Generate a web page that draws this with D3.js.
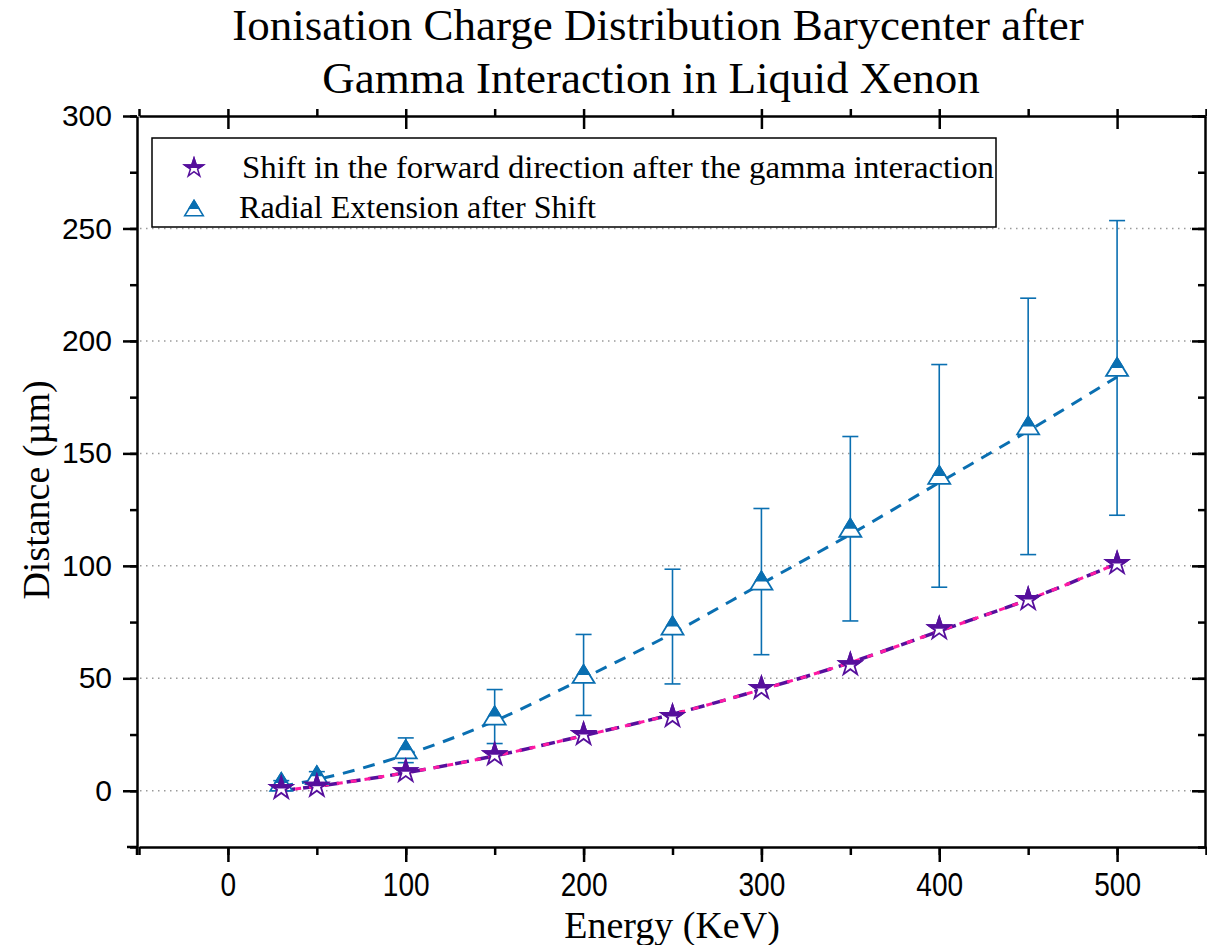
<!DOCTYPE html>
<html>
<head>
<meta charset="utf-8">
<script src="https://cdn.jsdelivr.net/npm/d3@7"></script>
<style>
  body { margin: 0; background: white; }
  svg { display: block; }
</style>
</head>
<body>
<div id="chart"></div>
<script>
// data
const energies = [30, 50, 100, 150, 200, 250, 300, 350, 400, 450, 500];
const shiftVals = [1, 2, 8.5, 16, 25, 33, 45.5, 56, 72, 85, 101];
const radialVals = [3.5, 6.5, 18, 33, 51.5, 73, 93, 116.5, 140, 162, 188];
const radialErr = [1, 2, 5.5, 12, 18, 25.5, 32.5, 41, 49.5, 57, 65.5];
const shiftFit = [0, 2, 8, 15.5, 24.5, 34, 45, 57, 71, 85, 101];
const radialFit = [2, 5, 16, 31, 50, 70, 92, 114, 137, 160, 184];
const xTicks = [0, 100, 200, 300, 400, 500];
const yTicks = [0, 50, 100, 150, 200, 250, 300];

const W = 1207, H = 945;
const frame = { left: 137, right: 1205, top: 116, bottom: 847 };

const svg = d3.select('#chart').append('svg')
  .attr('width', W).attr('height', H);

const x = d3.scaleLinear().domain([-50, 550]).range([139, 1206]);
const y = d3.scaleLinear().domain([-25, 300]).range([frame.bottom, frame.top]);

const blue = '#0a6fb1', purple = '#560f9c', magenta = '#ff1aa3';

// clip for half filled markers (top half)
svg.append('defs').append('clipPath').attr('id', 'tophalf')
  .append('rect').attr('x', -20).attr('y', -20).attr('width', 40).attr('height', 20);

// title
const title = svg.append('text').attr('text-anchor', 'middle')
  .style('font-family', '"Liberation Serif", serif').style('font-size', '45px');
title.append('tspan').attr('x', 658).attr('y', 40).text('Ionisation Charge Distribution Barycenter after');
title.append('tspan').attr('x', 651).attr('y', 93).text('Gamma Interaction in Liquid Xenon');

// grid
svg.append('g').selectAll('line')
  .data(yTicks.filter(d => d < 300))
  .enter().append('line')
  .attr('x1', frame.left + 3).attr('x2', frame.right - 14)
  .attr('y1', d => y(d)).attr('y2', d => y(d))
  .attr('stroke', '#9a9a9a').attr('stroke-width', 1.5)
  .attr('stroke-dasharray', '1.5,4.5');

// axes
function styleAxis(g) {
  g.selectAll('path').attr('stroke', '#000').attr('stroke-width', 2.5);
  g.selectAll('line').attr('stroke', '#000').attr('stroke-width', 2.5);
  g.selectAll('text').style('font-family', '"Liberation Sans", Arial, sans-serif')
    .style('font-size', '30px').attr('fill', '#000');
}
const yMinor = d3.range(-25, 301, 25);
const xMinor = d3.range(-50, 551, 50);

svg.append('g').attr('transform', `translate(${frame.left},0)`)
  .call(d3.axisLeft(y).tickValues(yMinor).tickSize(7).tickSizeOuter(0).tickFormat(''))
  .call(styleAxis);
svg.append('g').attr('transform', `translate(${frame.left},0)`)
  .call(d3.axisLeft(y).tickValues(yTicks).tickSize(14).tickPadding(11).tickSizeOuter(0))
  .call(styleAxis).call(g => g.select('.domain').remove());

svg.append('g').attr('transform', `translate(${frame.right},0)`)
  .call(d3.axisLeft(y).tickValues(yMinor).tickSize(7).tickSizeOuter(0).tickFormat(''))
  .call(styleAxis);
svg.append('g').attr('transform', `translate(${frame.right},0)`)
  .call(d3.axisLeft(y).tickValues(yTicks).tickSize(13).tickSizeOuter(0).tickFormat(''))
  .call(styleAxis).call(g => g.select('.domain').remove());

svg.append('g').attr('transform', `translate(0,${frame.bottom})`)
  .call(d3.axisBottom(x).tickValues(xMinor).tickSize(8).tickSizeOuter(0).tickFormat(''))
  .call(styleAxis);
svg.append('g').attr('transform', `translate(0,${frame.bottom})`)
  .call(d3.axisBottom(x).tickValues(xTicks).tickSize(15).tickPadding(11).tickSizeOuter(0))
  .call(styleAxis).call(g => g.select('.domain').remove())
  .call(g => g.selectAll('text').style('font-size', '33px').attr('transform', 'scale(0.85,1)'));

svg.append('g').attr('transform', `translate(0,${frame.top})`)
  .call(d3.axisBottom(x).tickValues(xMinor).tickSize(-7).tickSizeOuter(0).tickFormat(''))
  .call(styleAxis);
svg.append('g').attr('transform', `translate(0,${frame.top})`)
  .call(d3.axisBottom(x).tickValues(xTicks).tickSize(13).tickSizeOuter(0).tickFormat(''))
  .call(styleAxis).call(g => g.select('.domain').remove());

// small overhang of the axis lines at the bottom left corner
svg.append('line').attr('x1', 127).attr('x2', frame.left).attr('y1', frame.bottom).attr('y2', frame.bottom)
  .attr('stroke', '#000').attr('stroke-width', 2.5);
svg.append('line').attr('x1', frame.left).attr('x2', frame.left).attr('y1', frame.bottom).attr('y2', frame.bottom + 8)
  .attr('stroke', '#000').attr('stroke-width', 2.5);

// axis labels
svg.append('text').attr('x', 672).attr('y', 938).attr('text-anchor', 'middle')
  .style('font-family', '"Liberation Serif", serif').style('font-size', '38px')
  .text('Energy (KeV)');
svg.append('text').attr('transform', 'translate(49,490) rotate(-90)').attr('text-anchor', 'middle')
  .style('font-family', '"Liberation Serif", serif').style('font-size', '38px')
  .text('Distance (µm)');

// fit lines
const curve = (vals) => d3.line()
  .x((d, i) => x(energies[i])).y(d => y(d))
  .curve(d3.curveMonotoneX)(vals);

svg.append('path').attr('d', curve(radialFit)).attr('fill', 'none')
  .attr('stroke', blue).attr('stroke-width', 3).attr('stroke-dasharray', '12,9');
svg.append('path').attr('d', curve(shiftFit)).attr('fill', 'none')
  .attr('stroke', purple).attr('stroke-width', 3.5).attr('stroke-dasharray', '14,8');
svg.append('path').attr('d', curve(shiftFit)).attr('fill', 'none')
  .attr('stroke', magenta).attr('stroke-width', 3).attr('stroke-dasharray', '6,8');

// error bars
const eb = svg.append('g').attr('stroke', blue).attr('stroke-width', 1.6);
energies.forEach((e, i) => {
  const cx = x(e), y1 = y(radialVals[i] + radialErr[i]), y2 = y(radialVals[i] - radialErr[i]);
  eb.append('line').attr('x1', cx).attr('x2', cx).attr('y1', y1).attr('y2', y2);
  eb.append('line').attr('x1', cx - 8).attr('x2', cx + 8).attr('y1', y1).attr('y2', y1);
  eb.append('line').attr('x1', cx - 8).attr('x2', cx + 8).attr('y1', y2).attr('y2', y2);
});

// markers
const triPath = 'M0,-10 L11,8 L-11,8 Z';
const starPath = d3.symbol().type(d3.symbolStar).size(150)();

function halfMarker(g, path, color) {
  g.append('path').attr('d', path).attr('fill', 'white')
    .attr('stroke', color).attr('stroke-width', 1.8).attr('stroke-linejoin', 'miter');
  g.append('path').attr('d', path).attr('fill', color)
    .attr('stroke', color).attr('stroke-width', 1.8)
    .attr('clip-path', 'url(#tophalf)');
}

svg.append('g').selectAll('g')
  .data(radialVals)
  .enter().append('g')
  .attr('transform', (d, i) => `translate(${x(energies[i])},${y(d)})`)
  .each(function() { halfMarker(d3.select(this), triPath, blue); });

svg.append('g').selectAll('g')
  .data(shiftVals)
  .enter().append('g')
  .attr('transform', (d, i) => `translate(${x(energies[i])},${y(d)})`)
  .each(function() { halfMarker(d3.select(this), starPath, purple); });

// legend
const leg = svg.append('g');
leg.append('rect').attr('x', 152).attr('y', 138).attr('width', 844).attr('height', 89)
  .attr('fill', 'white').attr('stroke', '#000').attr('stroke-width', 1.5);
const legItems = [
  { label: 'Shift in the forward direction after the gamma interaction', path: starPath, color: purple, my: 168, ty: 178, tx: 242, len: 752 },
  { label: 'Radial Extension after Shift', path: triPath, color: blue, my: 209, ty: 218, tx: 239, len: 357 }
];
legItems.forEach(it => {
  const g = leg.append('g').attr('transform', `translate(194,${it.my}) scale(0.85)`);
  halfMarker(g, it.path, it.color);
  leg.append('text').attr('x', it.tx).attr('y', it.ty)
    .attr('textLength', it.len).attr('lengthAdjust', 'spacingAndGlyphs')
    .style('font-family', '"Liberation Serif", serif').style('font-size', '32px')
    .text(it.label);
});
</script>
</body>
</html>
